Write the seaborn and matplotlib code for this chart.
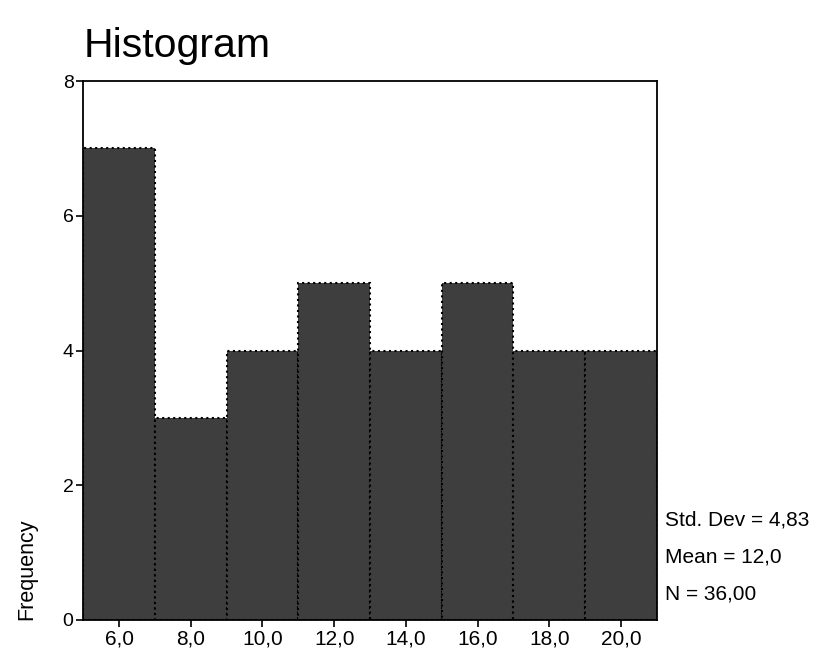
import numpy as np
import pandas as pd
import matplotlib
matplotlib.use('Agg')
import matplotlib.pyplot as plt
import seaborn as sns

# bin midpoints and frequencies
bin_mids = [6, 8, 10, 12, 14, 16, 18, 20]
counts = [7, 3, 4, 5, 4, 5, 4, 4]
tick_labels = ['6,0', '8,0', '10,0', '12,0', '14,0', '16,0', '18,0', '20,0']
stats_text = ['Std. Dev = 4,83', 'Mean = 12,0', 'N = 36,00']

sns.set_style('white')
plt.rcParams['font.family'] = ['Liberation Sans', 'DejaVu Sans']
plt.rcParams['text.color'] = 'black'
plt.rcParams['axes.labelcolor'] = 'black'
plt.rcParams['xtick.color'] = 'black'
plt.rcParams['ytick.color'] = 'black'

df = pd.DataFrame({'value': bin_mids, 'freq': counts})
edges = [m - 1 for m in bin_mids] + [bin_mids[-1] + 1]

fig = plt.figure(figsize=(8.24, 6.54), dpi=100)
ax = fig.add_axes([0.101, 0.052, 0.696, 0.824])

sns.histplot(data=df, x='value', weights='freq', bins=edges, ax=ax,
             color='#3e3e3e', alpha=1, edgecolor='black', linewidth=1.5,
             linestyle=':')

ax.set_xlim(5, 21)
ax.set_ylim(0, 8)
ax.set_xticks(bin_mids)
ax.set_xticklabels(tick_labels, fontsize=15)
ax.set_yticks([0, 2, 4, 6, 8])
ax.set_yticklabels(['0', '2', '4', '6', '8'], fontsize=14)
ax.tick_params(axis='both', direction='out', length=5, width=1.2,
               bottom=True, left=True, color='black', pad=2)
for sp in ax.spines.values():
    sp.set_visible(True)
    sp.set_color('black')
    sp.set_linewidth(1.3)

ax.set_xlabel('')
ax.set_ylabel('Frequency', fontsize=15.5, loc='bottom', labelpad=18)

fig.text(0.101, 0.93, 'Histogram', fontsize=29.5, ha='left', va='center')

for i, s in enumerate(stats_text):
    fig.text(0.807, 0.205 - i * 0.057, s, fontsize=15, ha='left', va='center')

plt.savefig('out.png', dpi=100)
